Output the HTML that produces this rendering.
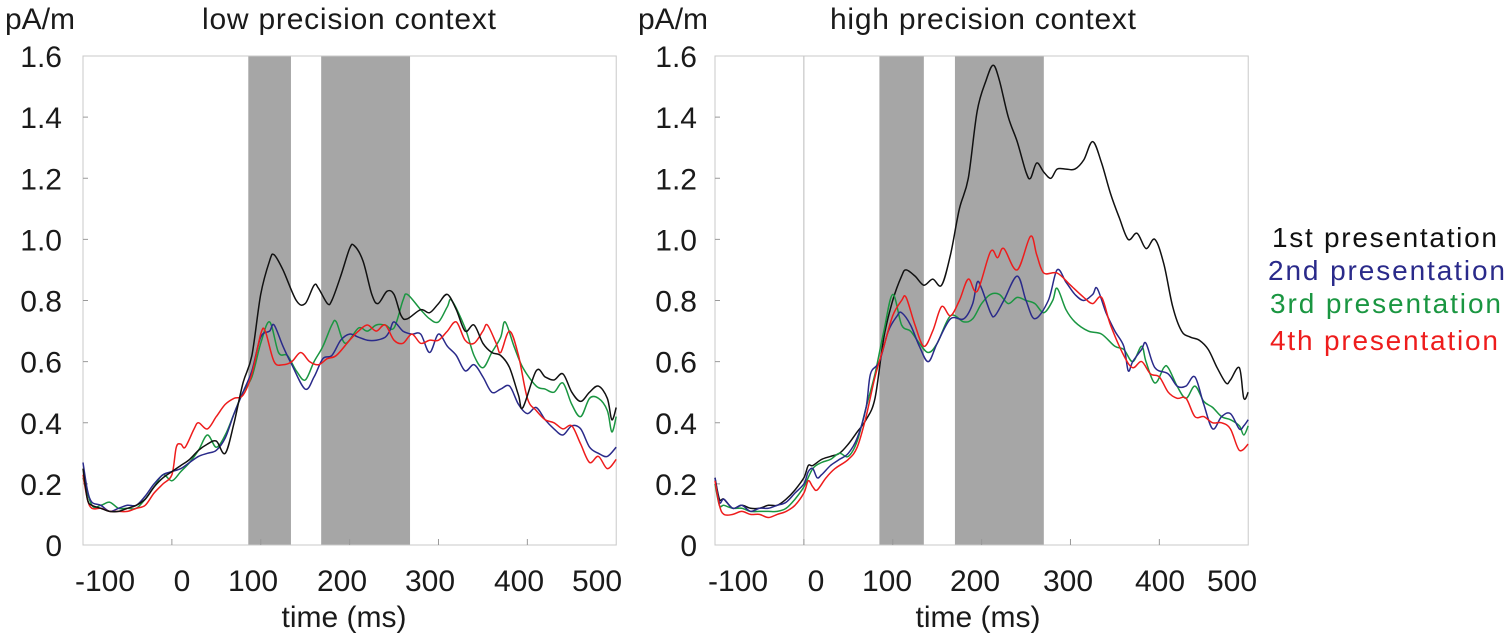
<!DOCTYPE html>
<html><head><meta charset="utf-8"><style>
html,body{margin:0;padding:0;background:#fff;}
svg{display:block;font-family:"Liberation Sans",Arial,sans-serif;}
</style></head><body>
<svg id="s" width="1512" height="640" viewBox="0 0 1512 640" xmlns="http://www.w3.org/2000/svg">
<rect width="1512" height="640" fill="#fff"/>
<g font-size="30" fill="#1a1a1a">
<text x="5" y="29">pA/m</text>
<text x="202" y="29" textLength="294">low precision context</text>
<text x="638" y="29">pA/m</text>
<text x="830" y="29" textLength="306">high precision context</text>
<text x="344" y="627" text-anchor="middle">time (ms)</text>
<text x="978" y="627" text-anchor="middle">time (ms)</text>
</g>
<g font-size="28">
<text x="1272" y="247" fill="#111" textLength="225">1st presentation</text>
<text x="1268" y="280" fill="#2a2a8a" textLength="237">2nd presentation</text>
<text x="1270" y="313" fill="#1a9641" textLength="231">3rd presentation</text>
<text x="1270" y="350" fill="#ee1c1c" textLength="228">4th presentation</text>
</g>
<g id="plots"></g>
</svg>
<script>
var NS="http://www.w3.org/2000/svg";
var P=document.getElementById("plots");
function el(t,a,txt){var e=document.createElementNS(NS,t);for(var k in a)e.setAttribute(k,a[k]);if(txt!=null)e.textContent=txt;P.appendChild(e);return e;}
var Y0=545,YS=489/1.6;
function Y(v){return Y0-v*YS;}
function plot(x0,shades,vline,series,labx,xl){
 var X=function(t){return x0+(t+100)*0.8887;};
 shades.forEach(function(s){el("rect",{x:X(s[0]),y:56,width:X(s[1])-X(s[0]),height:Y0-56,fill:"#a6a6a6"});});
 if(vline)el("line",{x1:X(0),x2:X(0),y1:56,y2:Y0,stroke:"#bbb","stroke-width":1});
 el("rect",{x:x0,y:56,width:X(500)-x0,height:Y0-56,fill:"none",stroke:"#c8c8c8","stroke-width":1});
 for(var i=0;i<=8;i++){var v=i*0.2,y=Y(v);
  if(i>0&&i<8)el("line",{x1:x0,x2:x0+5,y1:y,y2:y,stroke:"#999"});
  el("text",{x:labx,y:y+11,"text-anchor":"end","font-size":"30",fill:"#1a1a1a"},i==0?"0":v.toFixed(1));}
 var k=0;
 for(var t=-100;t<=500;t+=100){
  if(t>-100&&t<500)el("line",{x1:X(t),x2:X(t),y1:Y0,y2:Y0-6,stroke:"#999"});
  el("text",{x:xl[k++],y:591,"text-anchor":"middle","font-size":"30",fill:"#1a1a1a"},String(t));}
 series.forEach(function(s){
  var pts=[];for(var i=0;i<s[1].length;i+=2)pts.push([X(Math.min(s[1][i],500)),Y(s[1][i+1])]);
  var d="M"+pts[0][0].toFixed(1)+","+pts[0][1].toFixed(1);
  for(var i=0;i<pts.length-1;i++){var p0=pts[Math.max(i-1,0)],p1=pts[i],p2=pts[i+1],p3=pts[Math.min(i+2,pts.length-1)];
   d+="C"+(p1[0]+(p2[0]-p0[0])/6).toFixed(1)+","+(p1[1]+(p2[1]-p0[1])/6).toFixed(1)+" "+(p2[0]-(p3[0]-p1[0])/6).toFixed(1)+","+(p2[1]-(p3[1]-p1[1])/6).toFixed(1)+" "+p2[0].toFixed(1)+","+p2[1].toFixed(1);}
  el("path",{d:d,fill:"none",stroke:s[0],"stroke-width":1.5});});
}
var BK="#111",BL="#2a2a8a",GR="#1a9641",RD="#ee1c1c";
plot(83,[[86,134],[168,268]],false,[
[GR,[-100,0.22,-90,0.13,-80,0.13,-70,0.14,-60,0.12,-50,0.12,-40,0.12,-30,0.15,-20,0.19,-10,0.23,0,0.21,10,0.24,20,0.27,30,0.31,40,0.36,50,0.32,60,0.36,70,0.43,80,0.5,90,0.55,100,0.66,110,0.73,120,0.63,130,0.62,140,0.57,150,0.54,160,0.6,170,0.65,180,0.72,185,0.73,195,0.66,210,0.71,220,0.70,230,0.72,240,0.72,250,0.71,260,0.80,265,0.82,280,0.77,290,0.74,300,0.73,310,0.78,315,0.80,330,0.71,340,0.62,350,0.58,360,0.63,370,0.68,375,0.73,385,0.65,395,0.58,410,0.52,420,0.51,430,0.50,440,0.53,450,0.46,460,0.42,470,0.48,480,0.48,490,0.44,495,0.37,500,0.42]],
[BL,[-100,0.27,-95,0.18,-90,0.14,-80,0.13,-70,0.11,-60,0.12,-50,0.13,-40,0.13,-30,0.16,-20,0.2,-10,0.23,0,0.24,10,0.25,20,0.27,30,0.29,40,0.30,50,0.31,60,0.35,70,0.43,80,0.5,90,0.57,100,0.68,110,0.7,115,0.72,125,0.65,135,0.59,150,0.51,160,0.55,170,0.61,180,0.62,190,0.67,200,0.69,210,0.68,220,0.67,230,0.67,240,0.68,245,0.7,250,0.73,260,0.70,270,0.69,280,0.69,290,0.63,300,0.69,310,0.65,320,0.62,330,0.57,340,0.59,350,0.55,360,0.50,370,0.51,380,0.52,390,0.46,400,0.43,410,0.45,420,0.41,430,0.38,440,0.36,450,0.39,460,0.38,470,0.32,480,0.3,490,0.29,500,0.32]],
[RD,[-100,0.23,-95,0.15,-90,0.12,-80,0.12,-70,0.11,-60,0.11,-50,0.11,-40,0.12,-30,0.13,-20,0.17,-10,0.2,0,0.23,5,0.32,10,0.33,15,0.32,25,0.38,30,0.40,40,0.38,50,0.42,60,0.46,70,0.48,80,0.49,90,0.56,100,0.69,105,0.70,115,0.60,125,0.59,135,0.60,145,0.63,155,0.60,165,0.59,175,0.61,185,0.62,200,0.67,210,0.70,220,0.72,230,0.70,240,0.72,250,0.67,260,0.66,270,0.69,280,0.66,290,0.67,300,0.67,310,0.70,320,0.73,330,0.67,340,0.66,350,0.70,355,0.72,365,0.66,370,0.63,380,0.70,390,0.62,400,0.48,410,0.44,420,0.41,430,0.40,440,0.38,450,0.39,460,0.33,470,0.27,480,0.29,490,0.25,500,0.28]],
[BK,[-100,0.25,-95,0.15,-90,0.13,-80,0.12,-70,0.11,-60,0.11,-50,0.12,-40,0.13,-30,0.15,-20,0.19,-10,0.22,0,0.24,10,0.26,20,0.28,30,0.31,40,0.33,50,0.34,60,0.30,70,0.4,80,0.53,90,0.62,100,0.82,110,0.93,115,0.95,125,0.90,140,0.80,150,0.79,160,0.85,165,0.84,175,0.79,180,0.80,190,0.88,200,0.97,205,0.98,215,0.93,225,0.82,232,0.79,242,0.83,250,0.82,258,0.75,265,0.74,280,0.77,290,0.76,300,0.79,310,0.82,320,0.77,330,0.70,340,0.72,350,0.66,360,0.63,370,0.62,380,0.58,390,0.49,395,0.45,410,0.57,420,0.55,430,0.54,440,0.56,450,0.50,460,0.47,470,0.50,480,0.52,490,0.48,495,0.41,500,0.45]]
],62,[105,182,253,342,430,519,597]);
plot(715,[[85,135],[170,270]],true,[
[BK,[-100,0.22,-95,0.15,-90,0.15,-80,0.12,-70,0.13,-60,0.12,-50,0.12,-40,0.13,-30,0.13,-20,0.15,-10,0.18,0,0.22,5,0.26,10,0.26,20,0.28,30,0.29,40,0.30,50,0.33,60,0.37,70,0.41,80,0.48,90,0.68,100,0.80,110,0.88,115,0.90,125,0.88,135,0.85,145,0.87,155,0.85,165,0.95,175,1.1,185,1.2,195,1.42,205,1.52,213,1.57,220,1.52,230,1.4,240,1.32,250,1.22,255,1.20,262,1.25,270,1.22,278,1.20,285,1.23,295,1.23,305,1.23,315,1.26,325,1.32,335,1.25,345,1.15,355,1.07,365,1.0,375,1.02,385,0.97,395,1.0,405,0.92,415,0.78,425,0.70,435,0.68,445,0.67,455,0.64,465,0.58,475,0.53,480,0.54,490,0.58,495,0.48,500,0.5]],
[GR,[-100,0.20,-95,0.13,-90,0.13,-80,0.12,-70,0.12,-60,0.11,-50,0.11,-40,0.11,-30,0.11,-20,0.12,-10,0.15,0,0.19,10,0.25,20,0.27,30,0.28,40,0.30,50,0.29,60,0.34,70,0.45,80,0.56,90,0.70,100,0.82,110,0.72,120,0.70,130,0.66,140,0.63,150,0.66,165,0.75,180,0.73,190,0.74,200,0.79,210,0.82,220,0.82,230,0.79,240,0.81,250,0.80,260,0.79,270,0.76,280,0.80,285,0.84,295,0.77,305,0.73,320,0.70,335,0.69,350,0.65,360,0.64,370,0.60,380,0.65,385,0.60,395,0.53,405,0.58,410,0.58,420,0.52,430,0.48,440,0.52,450,0.47,460,0.45,470,0.42,480,0.41,490,0.39,495,0.36,500,0.39]],
[BL,[-100,0.22,-95,0.14,-90,0.15,-80,0.12,-70,0.13,-60,0.11,-50,0.12,-40,0.12,-30,0.13,-20,0.14,-10,0.17,0,0.2,5,0.24,10,0.25,15,0.22,20,0.23,30,0.26,40,0.28,50,0.3,60,0.35,70,0.45,75,0.56,85,0.6,95,0.70,105,0.75,110,0.76,120,0.72,130,0.65,140,0.6,150,0.66,165,0.74,180,0.74,190,0.79,195,0.86,200,0.84,210,0.76,215,0.75,225,0.80,240,0.88,250,0.80,260,0.74,275,0.80,285,0.90,295,0.86,305,0.82,315,0.80,325,0.82,330,0.84,340,0.76,350,0.7,360,0.65,365,0.57,370,0.6,380,0.64,385,0.66,395,0.58,410,0.56,420,0.52,430,0.52,440,0.55,450,0.46,460,0.38,470,0.42,480,0.43,490,0.38,495,0.39,500,0.41]],
[RD,[-100,0.21,-95,0.13,-90,0.10,-80,0.10,-70,0.11,-60,0.10,-50,0.10,-40,0.09,-30,0.10,-20,0.11,-10,0.13,0,0.17,5,0.21,10,0.19,15,0.18,25,0.22,35,0.25,50,0.28,60,0.32,70,0.42,80,0.55,90,0.65,100,0.75,110,0.80,115,0.81,125,0.72,135,0.65,145,0.70,155,0.78,165,0.75,175,0.80,185,0.87,195,0.83,210,0.96,218,0.94,225,0.97,240,0.90,255,1.01,262,0.95,270,0.89,285,0.89,300,0.85,315,0.81,325,0.79,335,0.81,345,0.72,360,0.62,370,0.58,380,0.60,390,0.56,400,0.55,410,0.50,420,0.48,430,0.48,440,0.42,450,0.42,460,0.40,470,0.40,480,0.38,490,0.31,500,0.33]]
],697,[738,816,887,975,1068,1160,1232]);
</script>
</body></html>
